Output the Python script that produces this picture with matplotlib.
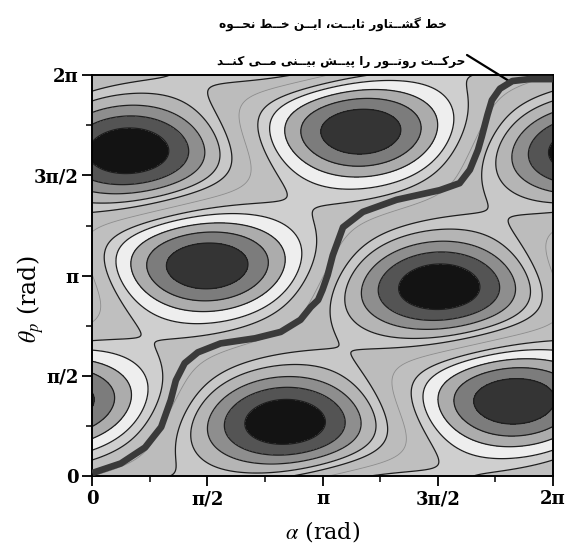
import numpy as np
import matplotlib.pyplot as plt
from matplotlib.colors import ListedColormap, BoundaryNorm

plt.rcParams['mathtext.fontset'] = 'stix'

# ---------------------------------------------------------
# data (radians)
# ---------------------------------------------------------
# centres of the dark (minimum) and dark-grey (maximum) islands
min_alpha = [0.50, 2.65, 4.75]
min_theta = [5.11, 0.86, 2.98]
max_alpha = [1.55, 3.65, 5.74]
max_theta = [3.28, 5.39, 1.16]
kappa_alpha, kappa_theta = 1.1, 3.0

# filled-contour bands and their grey shades
levels = [-1.3, -0.81, -0.62, -0.45, -0.29, -0.17, 0.0, 0.17, 0.29, 0.45, 0.62, 0.81, 1.3]
band_grays = ['#131313', '#545454', '#8e8e8e', '#b5b5b5', '#c8c8c8', '#bcbcbc',
              '#bfbfbf', '#cfcfcf', '#eeeeee', '#acacac', '#7c7c7c', '#343434']

# constant torque line (traced)
line_alpha = [0.00, 0.39, 0.72, 0.94, 1.07, 1.14, 1.26, 1.44, 1.75, 2.22, 2.57, 2.84, 2.98,
              3.08, 3.14, 3.21, 3.28, 3.42, 3.69, 4.15, 4.74, 5.01, 5.15, 5.26, 5.31, 5.39,
              5.45, 5.56, 5.73, 5.96, 6.28]
line_theta = [0.05, 0.20, 0.45, 0.77, 1.19, 1.50, 1.77, 1.94, 2.08, 2.16, 2.26, 2.45, 2.65,
              2.76, 2.92, 3.15, 3.46, 3.90, 4.14, 4.33, 4.48, 4.59, 4.80, 5.11, 5.31, 5.66,
              5.89, 6.07, 6.19, 6.22, 6.22]

tick_vals = [0, np.pi / 2, np.pi, 3 * np.pi / 2, 2 * np.pi]
tick_labels = ['0', 'π/2', 'π', '3π/2', '2π']

note_lines = ['خط گشــتاور ثابــت، ایــن خــط نحــوه',
              'حرکــت روتــور را پیــش بیــنی مــی کنــد']

# ---------------------------------------------------------
# minimal Persian shaping (matplotlib has no RTL / joining support)
# ---------------------------------------------------------
FORMS = {
    'ا': ('\uFE8D', '\uFE8E', None, None),
    'ب': ('\uFE8F', '\uFE90', '\uFE91', '\uFE92'),
    'ت': ('\uFE95', '\uFE96', '\uFE97', '\uFE98'),
    'ث': ('\uFE99', '\uFE9A', '\uFE9B', '\uFE9C'),
    'ح': ('\uFEA1', '\uFEA2', '\uFEA3', '\uFEA4'),
    'خ': ('\uFEA5', '\uFEA6', '\uFEA7', '\uFEA8'),
    'د': ('\uFEA9', '\uFEAA', None, None),
    'ر': ('\uFEAD', '\uFEAE', None, None),
    'ش': ('\uFEB5', '\uFEB6', '\uFEB7', '\uFEB8'),
    'ط': ('\uFEC1', '\uFEC2', '\uFEC3', '\uFEC4'),
    'م': ('\uFEE1', '\uFEE2', '\uFEE3', '\uFEE4'),
    'ن': ('\uFEE5', '\uFEE6', '\uFEE7', '\uFEE8'),
    'ه': ('\uFEE9', '\uFEEA', '\uFEEB', '\uFEEC'),
    'و': ('\uFEED', '\uFEEE', None, None),
    'پ': ('\uFB56', '\uFB57', '\uFB58', '\uFB59'),
    'ک': ('\uFB8E', '\uFB8F', '\uFB90', '\uFB91'),
    'گ': ('\uFB92', '\uFB93', '\uFB94', '\uFB95'),
    'ی': ('\uFBFC', '\uFBFD', '\uFBFE', '\uFBFF'),
}


def _dual(c):
    return c == 'ـ' or (c in FORMS and FORMS[c][2] is not None)


def shape_fa(text):
    out = []
    for i, c in enumerate(text):
        if c not in FORMS:
            out.append(c)
            continue
        prev = text[i - 1] if i > 0 else ''
        nxt = text[i + 1] if i + 1 < len(text) else ''
        jp = _dual(prev)
        jn = _dual(c) and (nxt in FORMS or nxt == 'ـ')
        iso, fin, ini, med = FORMS[c]
        out.append(med if jp and jn else fin if jp else ini if jn else iso)
    return ''.join(reversed(out))


# ---------------------------------------------------------
# field
# ---------------------------------------------------------
a = np.linspace(0, 2 * np.pi, 401)
t = np.linspace(0, 2 * np.pi, 401)
A, T = np.meshgrid(a, t)
F = np.zeros_like(A)
for ca, ct in zip(max_alpha, max_theta):
    F += np.exp(kappa_alpha * (np.cos(A - ca) - 1) + kappa_theta * (np.cos(T - ct) - 1))
for ca, ct in zip(min_alpha, min_theta):
    F -= np.exp(kappa_alpha * (np.cos(A - ca) - 1) + kappa_theta * (np.cos(T - ct) - 1))
F /= np.abs(F).max()

# ---------------------------------------------------------
# plot
# ---------------------------------------------------------
fig = plt.figure(figsize=(5.66, 5.48), dpi=100)
ax = fig.add_axes([0.163, 0.131, 0.814, 0.732])

cmap = ListedColormap(band_grays)
norm = BoundaryNorm(levels, cmap.N)
ax.contourf(A, T, F, levels=levels, cmap=cmap, norm=norm)
inner = levels[1:-1]
ax.contour(A, T, F, levels=inner,
           colors=['#8c8c8c' if v == 0 else '#1e1e1e' for v in inner],
           linewidths=[0.6 if v == 0 else 0.9 for v in inner])

ax.plot(line_alpha, line_theta, color='#3a3a3a', lw=4.8, solid_capstyle='butt', zorder=5)

ax.set_xlim(0, 2 * np.pi)
ax.set_ylim(0, 2 * np.pi)
ax.set_xticks(tick_vals)
ax.set_yticks(tick_vals)
ax.set_xticks(np.arange(1, 8, 2) * np.pi / 4, minor=True)
ax.set_yticks(np.arange(1, 8, 2) * np.pi / 4, minor=True)
ax.set_xticklabels(tick_labels, fontfamily='DejaVu Serif', fontweight='bold', fontsize=13)
ax.set_yticklabels(tick_labels, fontfamily='DejaVu Serif', fontweight='bold', fontsize=13)
ax.tick_params(which='major', direction='out', length=7, width=1.3, pad=3)
ax.tick_params(which='minor', direction='out', length=4, width=1.1)
for s in ax.spines.values():
    s.set_linewidth(1.4)

ax.set_xlabel(r'$\alpha$ (rad)', fontfamily='DejaVu Serif', fontsize=16, labelpad=8)
ax.set_ylabel(r'$\theta_p$ (rad)', fontfamily='DejaVu Serif', fontsize=17)
ax.yaxis.set_label_coords(-0.10, 0.44)

# Persian note with leader line
fig.text(0.589, 1 - 25 / 548, shape_fa(note_lines[0]), ha='center', va='center',
         fontsize=8.7, fontweight='bold', family=['DejaVu Sans'])
fig.text(0.603, 1 - 62 / 548, shape_fa(note_lines[1]), ha='center', va='center',
         fontsize=8.7, fontweight='bold', family=['DejaVu Sans'])
ax.annotate('', xy=(5.67, 6.20), xycoords='data',
            xytext=(467 / 566, 1 - 55 / 548), textcoords='figure fraction',
            arrowprops=dict(arrowstyle='-', color='black', lw=1.6,
                            shrinkA=0, shrinkB=0), annotation_clip=False)

fig.savefig('out.png', dpi=100)
